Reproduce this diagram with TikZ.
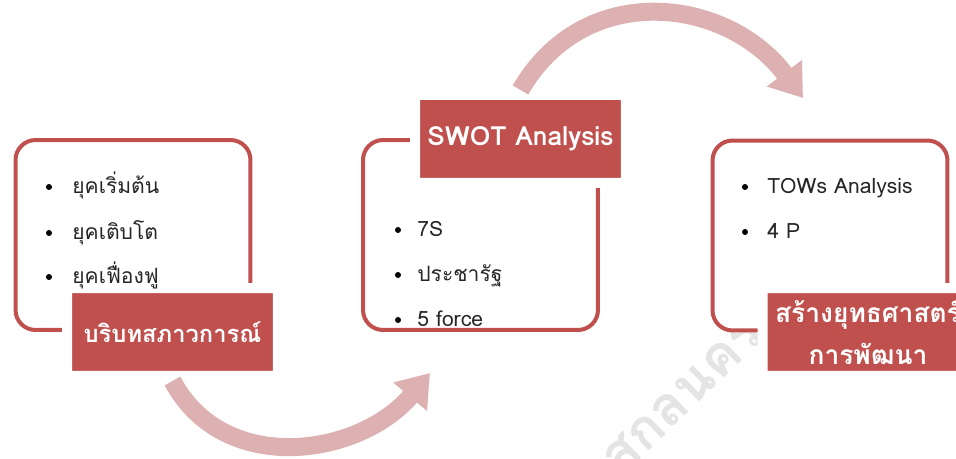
\documentclass[tikz,border=0pt]{standalone}
\usepackage{fontspec}
\setmainfont[Script=Thai]{Loma}
\usepackage{xcolor}
\usetikzlibrary{positioning,arrows.meta}
\definecolor{framecolor}{RGB}{192, 80, 77}
\definecolor{flowcolor}{RGB}{221, 177, 177}
\definecolor{markcolor}{RGB}{228, 228, 228}
\tikzset{
    info box/.style={draw=framecolor, line width=0.08cm, rounded corners=0.4cm, fill=white, minimum width=4.7cm, minimum height=3.8cm, inner sep=0pt},
    title tag/.style={fill=framecolor, draw=white, line width=0.2cm, rounded corners=0.08cm, minimum width=4.22cm, minimum height=1.76cm, inner sep=0pt, text=white, align=center, font=\fontsize{13.5}{23}\selectfont\bfseries},
    item/.style={anchor=base west, inner sep=0pt, text=black!85, font=\fontsize{12}{15}\selectfont},
    dot/.style={circle, fill=black, inner sep=0pt, minimum size=0.12cm},
    flow arrow/.style={-{Triangle[width=0.84cm, length=0.62cm]}, line width=0.36cm, flowcolor},
    watermark/.style={inner sep=0pt, text=markcolor, rotate=44, font=\fontsize{31}{31}\selectfont\bfseries}
}

\begin{document}
\begin{tikzpicture}[x=0.02cm, y=0.02cm]
    \fill[white] (0,0) rectangle (956,459);
    \useasboundingbox (0,0) rectangle (956,459);

    % Watermark (behind everything)
    \node[watermark] (mark) at (683,63) {สกลนคร};

    % Frames
    \node[info box] (box1) at (133,224) {};
    \node[info box] (box2) at (480.5,224) {};
    \node[info box] (box3) at (830,223.5) {};

    % Title tags
    \node[title tag] (tag1) at (172.5,127) {บริบทสภาวการณ์};
    \node[title tag, font=\fontsize{15}{23}\selectfont\bfseries] (tag2) at (520.5,320) {SWOT Analysis};
    \node[title tag, font=\fontsize{15}{24}\selectfont\bfseries] (tag3) at (868,127) {สร้างยุทธศาสตร์\\การพัฒนา};

    % Flow arrows between the steps
    \coordinate (end1) at (430,86);
    \coordinate (end2) at (803,361);
    \draw[flow arrow] (tag1.south) to[out=-62, in=230, looseness=1.08] (end1);
    \draw[flow arrow] (tag2.north) to[out=60, in=127, looseness=1.15] (end2);

    % Items of the first step
    \node[dot] (d11) at (49,272) {};
    \node[dot] (d12) at (49,226) {};
    \node[dot] (d13) at (49,182) {};
    \node[item] (i11) at (72,265) {ยุคเริ่มต้น};
    \node[item] (i12) at (72,219) {ยุคเติบโต};
    \node[item] (i13) at (72,175) {ยุคเฟื่องฟู};

    % Items of the second step
    \node[dot] (d21) at (398,229) {};
    \node[dot] (d22) at (398,184) {};
    \node[dot] (d23) at (398,139) {};
    \node[item] (i21) at (417,222) {7S};
    \node[item] (i22) at (417,177) {ประชารัฐ};
    \node[item] (i23) at (417,132) {5 force};

    % Items of the third step
    \node[dot] (d31) at (745,272) {};
    \node[dot] (d32) at (745,227) {};
    \node[item] (i31) at (767,265) {TOWs Analysis};
    \node[item] (i32) at (767,220) {4 P};
\end{tikzpicture}
\end{document}
